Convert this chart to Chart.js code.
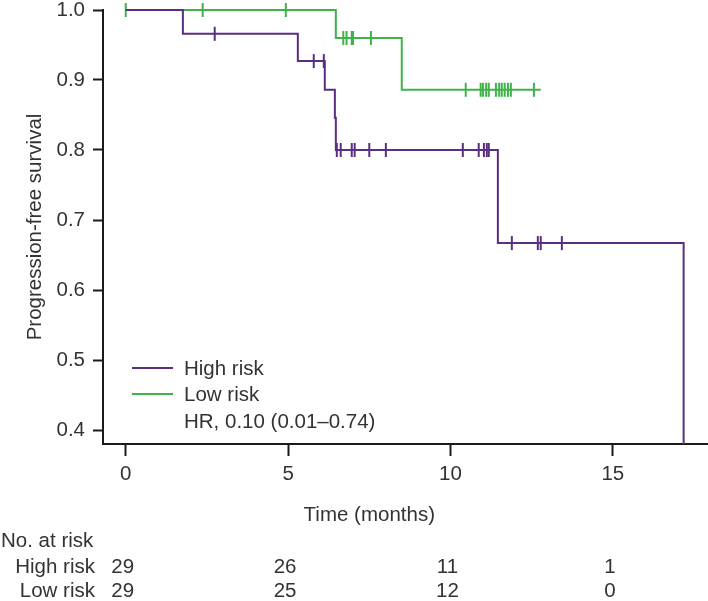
<!DOCTYPE html>
<html>
<head>
<meta charset="utf-8">
<script src="https://cdn.jsdelivr.net/npm/chart.js@4.4.1/dist/chart.umd.min.js"></script>
<style>
  html, body { margin: 0; padding: 0; background: #fff; overflow: hidden; }
  canvas { display: block; }
</style>
</head>
<body>
<canvas id="km" width="708" height="601"></canvas>
<script>
// Kaplan-Meier: progression-free survival by risk group

const xTicks = [0, 5, 10, 15];
const yTicks = [0.4, 0.5, 0.6, 0.7, 0.8, 0.9, 1.0];

// event times (months) and survival after each step
const highTimes = [0, 1.76, 5.3, 6.13, 6.44, 6.47, 11.46, 17.18];
const highSurv  = [1.0, 0.966, 0.927, 0.886, 0.846, 0.80, 0.667, 0];
const highCensor = [2.74, 5.79, 6.1, 6.5, 6.62, 6.96, 7.05, 7.5, 8.01, 10.38, 10.87, 11.03, 11.12, 11.18, 11.89, 12.69, 12.78, 13.43];

const lowTimes = [0, 6.47, 8.5, 12.78];
const lowSurv  = [1.0, 0.96, 0.886, 0.886];
const lowCensor = [0, 2.37, 4.93, 6.7, 6.8, 6.96, 7.0, 7.55, 10.47, 10.93, 11.0, 11.1, 11.18, 11.4, 11.5, 11.58, 11.67, 11.77, 11.86, 12.57];

// number at risk table
const riskTimes = [0, 5, 10, 15];
const riskGroups = ['High risk', 'Low risk'];
const highAtRisk = [29, 26, 11, 1];
const lowAtRisk = [29, 25, 12, 0];

const hrText = 'HR, 0.10 (0.01\u20130.74)';

const PURPLE = '#5a2e80';
const GREEN = '#3fb24b';
const TEXT = '#333333';
const AXIS = '#1a1a1a';
const FONT = '"Liberation Sans", Arial, sans-serif';
const FSIZE = 20.5;

function survAt(times, surv, t) {
  let s = surv[0];
  for (let i = 0; i < times.length; i++) if (times[i] <= t) s = surv[i];
  return s;
}

const toPts = (times, surv) => times.map((t, i) => ({ x: t, y: surv[i] }));
const censorPts = (cens, times, surv) => cens.map(t => ({ x: t, y: survAt(times, surv, t) }));

const curveClip = { left: false, top: 8, right: false, bottom: 0 };

const overlay = {
  id: 'overlay',
  afterDraw(chart) {
    const ctx = chart.ctx;
    const xs = chart.scales.x;
    ctx.save();
    ctx.font = FSIZE + 'px ' + FONT;
    ctx.fillStyle = TEXT;
    ctx.textBaseline = 'middle';

    // x axis title, centred on the tick range
    ctx.textAlign = 'center';
    ctx.fillText('Time (months)', (xs.getPixelForValue(xTicks[0]) + xs.getPixelForValue(xTicks[xTicks.length - 1])) / 2, 515);

    // legend inside plot
    const legendColors = [PURPLE, GREEN];
    const legendY = [368, 394];
    ctx.lineWidth = 2;
    riskGroups.forEach((g, i) => {
      ctx.strokeStyle = legendColors[i];
      ctx.beginPath();
      ctx.moveTo(132, legendY[i]);
      ctx.lineTo(173, legendY[i]);
      ctx.stroke();
      ctx.textAlign = 'left';
      ctx.fillText(g, 184, legendY[i] + 1);
    });
    ctx.fillText(hrText, 184, 422);

    // number at risk
    ctx.textAlign = 'left';
    ctx.fillText('No. at risk', 1, 541);
    const rows = [highAtRisk, lowAtRisk];
    const rowY = [567, 591];
    rows.forEach((vals, r) => {
      ctx.textAlign = 'right';
      ctx.fillText(riskGroups[r], 95, rowY[r]);
      ctx.textAlign = 'center';
      vals.forEach((v, i) => ctx.fillText(String(v), xs.getPixelForValue(riskTimes[i]) - 3, rowY[r]));
    });
    ctx.restore();
  }
};

new Chart(document.getElementById('km'), {
  type: 'scatter',
  data: {
    datasets: [
      {
        label: 'High risk', data: toPts(highTimes, highSurv), showLine: true, stepped: true,
        borderColor: PURPLE, borderWidth: 2, pointRadius: 0, clip: curveClip
      },
      {
        label: 'Low risk', data: toPts(lowTimes, lowSurv), showLine: true, stepped: true,
        borderColor: GREEN, borderWidth: 2, pointRadius: 0, clip: curveClip
      },
      {
        label: 'High censored', data: censorPts(highCensor, highTimes, highSurv), showLine: false,
        pointStyle: 'line', rotation: 90, pointRadius: 7, pointBorderWidth: 2,
        pointBorderColor: PURPLE, borderColor: PURPLE, clip: false
      },
      {
        label: 'Low censored', data: censorPts(lowCensor, lowTimes, lowSurv), showLine: false,
        pointStyle: 'line', rotation: 90, pointRadius: 7, pointBorderWidth: 2,
        pointBorderColor: GREEN, borderColor: GREEN, clip: false
      }
    ]
  },
  options: {
    responsive: false,
    animation: false,
    layout: { autoPadding: false, padding: { top: 10, right: 1, bottom: 0, left: 0 } },
    plugins: { legend: { display: false }, tooltip: { enabled: false } },
    scales: {
      x: {
        type: 'linear', min: -0.7, max: 17.9,
        afterBuildTicks: s => { s.ticks = xTicks.map(v => ({ value: v })); },
        afterFit: s => { s.height = 157; s.paddingLeft = 0; s.paddingRight = 0; },
        grid: { drawOnChartArea: false, drawTicks: true, tickLength: 12, tickColor: AXIS, tickWidth: 2 },
        border: { color: AXIS, width: 2 },
        ticks: { color: TEXT, font: { size: FSIZE, family: FONT }, padding: 6, maxRotation: 0, callback: v => v }
      },
      y: {
        type: 'linear', min: 0.38, max: 1.0,
        afterBuildTicks: s => { s.ticks = yTicks.map(v => ({ value: v })); },
        afterFit: s => { s.width = 103; s.paddingTop = 0; s.paddingBottom = 0; },
        grid: { drawOnChartArea: false, drawTicks: true, tickLength: 10, tickColor: AXIS, tickWidth: 2 },
        border: { color: AXIS, width: 2 },
        ticks: { color: TEXT, font: { size: FSIZE, family: FONT }, padding: 8, callback: v => v.toFixed(1) },
        title: { display: true, text: 'Progression-free survival', color: TEXT, font: { size: FSIZE, family: FONT }, padding: { top: 23 } }
      }
    }
  },
  plugins: [overlay]
});
</script>
</body>
</html>
